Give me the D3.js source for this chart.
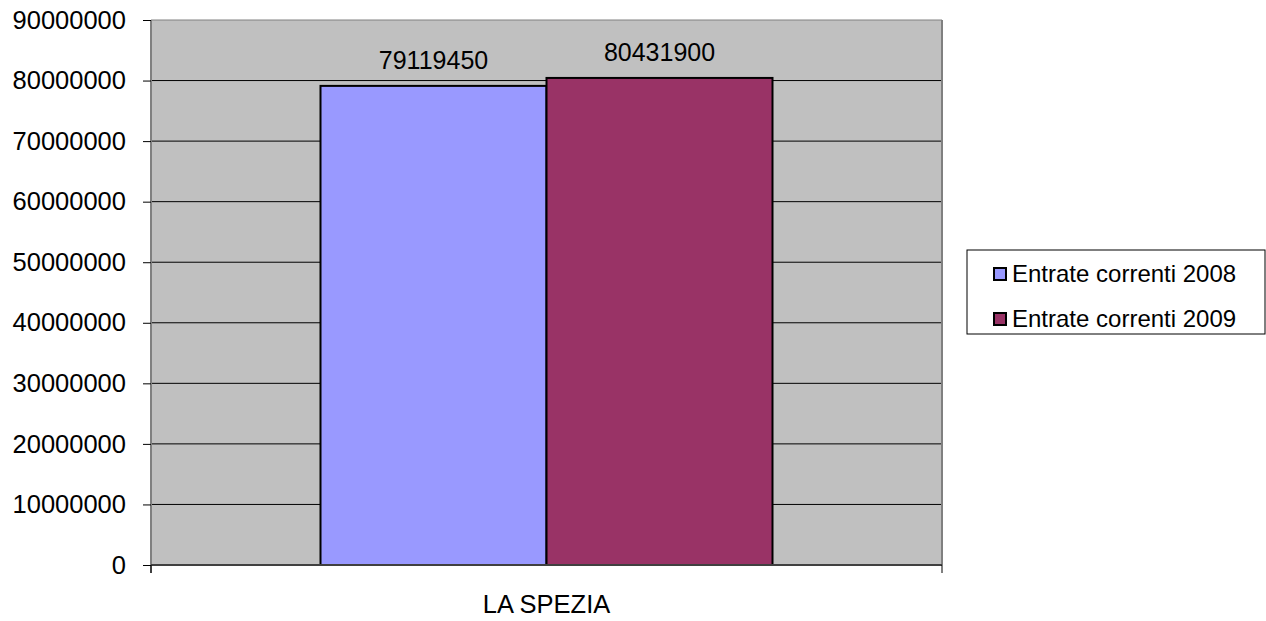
<!DOCTYPE html>
<html>
<head>
<meta charset="utf-8">
<script src="https://cdn.jsdelivr.net/npm/d3@7"></script>
<style>
  body { margin: 0; background: #fff; }
  svg { font-family: "Liberation Sans", Arial, sans-serif; }
</style>
</head>
<body>
<svg id="chart" width="1266" height="621"></svg>
<script>
// Data
const categories = ["LA SPEZIA"];
const seriesNames = ["Entrate correnti 2008", "Entrate correnti 2009"];
const seriesValues = [[79119450], [80431900]];
const seriesColors = ["#9999FF", "#993366"];
const yTicks = [0, 10000000, 20000000, 30000000, 40000000, 50000000, 60000000, 70000000, 80000000, 90000000];

const svg = d3.select('#chart');
const plot = { left: 151, right: 942, top: 20, bottom: 565 };
const FONT = '"Liberation Sans", Arial, sans-serif';

const x = d3.scaleBand()
    .domain(categories)
    .range([plot.left, plot.right])
    .paddingInner(0)
    .paddingOuter(0.375);

const xSeries = d3.scaleBand()
    .domain(seriesNames)
    .range([0, x.bandwidth()]);

const y = d3.scaleLinear()
    .domain([0, 90000000])
    .range([plot.bottom, plot.top]);

// Plot background
svg.append('rect')
    .attr('x', plot.left)
    .attr('y', plot.top)
    .attr('width', plot.right - plot.left)
    .attr('height', plot.bottom - plot.top)
    .attr('fill', '#C0C0C0');

// Gridlines
svg.append('g')
    .selectAll('line')
    .data(yTicks.slice(1))
    .join('line')
    .attr('x1', plot.left)
    .attr('x2', plot.right)
    .attr('y1', d => y(d))
    .attr('y2', d => y(d))
    .attr('stroke', (d, i, a) => i === a.length - 1 ? '#808080' : '#000')
    .attr('stroke-width', 1);

// Right border
svg.append('line')
    .attr('x1', plot.right).attr('x2', plot.right)
    .attr('y1', plot.top).attr('y2', plot.bottom)
    .attr('stroke', '#808080').attr('stroke-width', 2);

// Bars
const bars = svg.append('g');
seriesNames.forEach((s, si) => {
    bars.selectAll(null)
        .data(categories)
        .join('rect')
        .attr('x', d => x(d) + xSeries(s))
        .attr('y', (d, i) => y(seriesValues[si][i]))
        .attr('width', xSeries.bandwidth())
        .attr('height', (d, i) => y(0) - y(seriesValues[si][i]))
        .attr('fill', seriesColors[si])
        .attr('stroke', '#000')
        .attr('stroke-width', 2);

    bars.selectAll(null)
        .data(categories)
        .join('text')
        .attr('x', d => x(d) + xSeries(s) + xSeries.bandwidth() / 2)
        .attr('y', (d, i) => y(seriesValues[si][i]) - 17)
        .attr('text-anchor', 'middle')
        .attr('font-size', '25px')
        .attr('fill', '#000')
        .text((d, i) => seriesValues[si][i]);
});

// Y axis
const yAxis = svg.append('g')
    .attr('transform', `translate(${plot.left},0)`)
    .call(d3.axisLeft(y).tickValues(yTicks).tickFormat(d3.format('d')).tickSize(8).tickPadding(17));
yAxis.select('.domain').attr('stroke', '#808080').attr('stroke-width', 2)
    .attr('d', `M0,${plot.top}V${plot.bottom + 8}`);
yAxis.selectAll('.tick line').attr('stroke', '#000');
yAxis.selectAll('.tick text').attr('font-size', '25.5px').attr('fill', '#000')
    .attr('font-family', FONT);

// X axis
const xAxis = svg.append('g')
    .attr('transform', `translate(0,${plot.bottom})`)
    .call(d3.axisBottom(x).tickSize(0).tickPadding(30));
xAxis.select('.domain').attr('stroke', '#404040').attr('stroke-width', 2)
    .attr('d', `M${plot.left},0H${plot.right}`);
xAxis.selectAll('.tick text').attr('font-size', '25.5px').attr('fill', '#000')
    .attr('font-family', FONT);
// category boundary ticks
xAxis.append('g')
    .selectAll('line')
    .data([plot.left, plot.right])
    .join('line')
    .attr('x1', d => d).attr('x2', d => d)
    .attr('y1', 0).attr('y2', 8)
    .attr('stroke', '#000');

// Legend
const legend = svg.append('g').attr('transform', 'translate(967,250)');
legend.append('rect')
    .attr('width', 298).attr('height', 84)
    .attr('fill', '#fff').attr('stroke', '#000').attr('stroke-width', 1);
seriesNames.forEach((s, i) => {
    const row = legend.append('g').attr('transform', `translate(0,${32 + i * 45})`);
    row.append('rect')
        .attr('x', 27).attr('y', -14)
        .attr('width', 12).attr('height', 12)
        .attr('fill', seriesColors[i]).attr('stroke', '#000').attr('stroke-width', 2);
    row.append('text')
        .attr('x', 45).attr('y', 0)
        .attr('font-size', '24px')
        .attr('fill', '#000')
        .text(s);
});
</script>
</body>
</html>
